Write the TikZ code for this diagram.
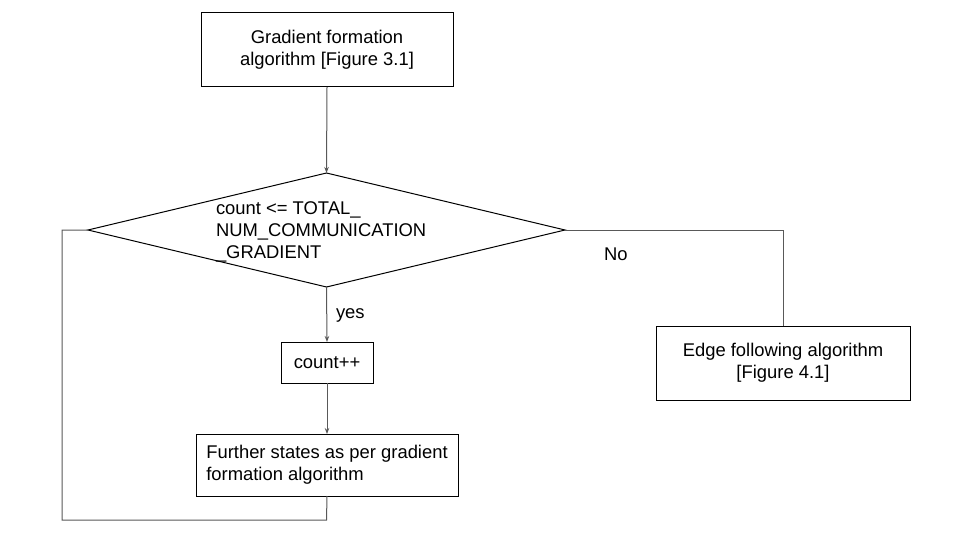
\documentclass[tikz,border=0pt]{standalone}
\usepackage{fontspec}
\setmainfont{Liberation Sans}
\usetikzlibrary{shapes.geometric,arrows.meta}
\definecolor{conn}{HTML}{595959}
\tikzset{
  box/.style={draw=black, line width=1pt, rectangle, inner sep=0pt, outer sep=0pt, align=center},
  decision/.style={draw=black, line width=1pt, diamond, inner sep=0pt, outer sep=0pt},
  conline/.style={draw=conn, line width=1pt},
  arr/.style={conline, -{Stealth[length=6pt,width=4.5pt]}},
  lbl/.style={inner sep=0pt, outer sep=0pt},
}
\begin{document}
\begin{tikzpicture}[x=1pt,y=-1pt, font=\fontsize{18.4}{22}\selectfont]
\useasboundingbox[fill=white] (0,0) rectangle (960,540);
\node[box, minimum width=252pt, minimum height=74pt] (top) at (327,50) {Gradient formation\\algorithm [Figure 3.1]};
\node[decision, minimum width=477pt, minimum height=114pt] (dia) at (326.5,230) {};
\node[lbl, anchor=base west, align=left] (diatext) at (216,258) {count <= TOTAL\_\\NUM\_COMMUNICATION\\\_GRADIENT};
\node[box, minimum width=92pt, minimum height=41pt] (cnt) at (327,362.5) {count++};
\node[box, minimum width=262pt, minimum height=62pt, align=left] (fur) at (327,465) {Further states as per gradient\\formation algorithm};
\node[box, minimum width=254pt, minimum height=74pt] (edge) at (783,363) {Edge following algorithm\\{}[Figure 4.1]};
\coordinate (rc) at (783,230);
\coordinate (bl) at (62,520);
\coordinate (tl) at (62,230);
\coordinate (bm) at (326.5,520);
\draw[arr] (top.south) -- (dia.north);
\draw[arr] (dia.south) -- (cnt.north);
\draw[arr] (cnt.south) -- (fur.north);
\draw[conline] (dia.east) -- (rc) -- (edge.north);
\draw[conline] (fur.south) -- (bm) -- (bl) -- (tl) -- (dia.west);
\node[lbl, anchor=base west] (yes) at (336,318) {yes};
\node[lbl, anchor=base west] (no) at (604,260) {No};
\end{tikzpicture}
\end{document}
